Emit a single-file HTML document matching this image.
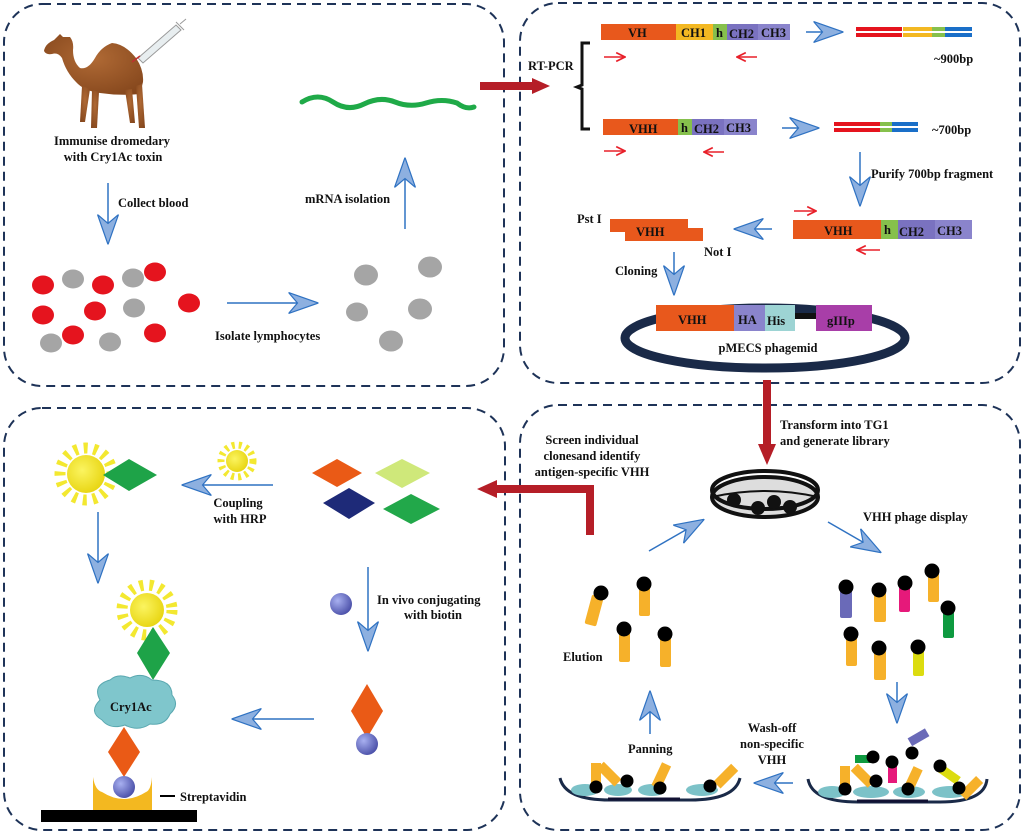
<!DOCTYPE html>
<html><head><meta charset="utf-8"><style>
html,body{margin:0;padding:0;background:#fff;}
svg{display:block;}
text{font-family:"Liberation Serif",serif;font-weight:bold;fill:#111;font-size:12.5px;}
</style></head><body>
<svg width="1024" height="836" viewBox="0 0 1024 836" xmlns="http://www.w3.org/2000/svg">
<defs>
<marker id="bh" viewBox="0 0 20 14" markerWidth="30" markerHeight="22" refX="19" refY="7" orient="auto" markerUnits="userSpaceOnUse">
<path d="M0,0 L20,7 L0,14 L6,7 Z" fill="#8db0e0" stroke="#2f72c2" stroke-width="0.8"/>
</marker>
<marker id="ra" viewBox="0 0 10 10" markerWidth="11" markerHeight="11" refX="9" refY="5" orient="auto" markerUnits="userSpaceOnUse">
<path d="M1,1 L9,5 L1,9" fill="none" stroke="#e8202a" stroke-width="1.6"/>
</marker>
<radialGradient id="ball" cx="0.35" cy="0.35" r="0.7"><stop offset="0" stop-color="#a8b0f0"/><stop offset="1" stop-color="#4a4fa8"/></radialGradient>
<radialGradient id="sun" cx="0.4" cy="0.4" r="0.7"><stop offset="0" stop-color="#fbf460"/><stop offset="1" stop-color="#e6d20a"/></radialGradient>
<radialGradient id="cam" cx="0.5" cy="0.4" r="0.7"><stop offset="0" stop-color="#b06a35"/><stop offset="1" stop-color="#84461c"/></radialGradient>
</defs>

<g fill="none" stroke="#1e3358" stroke-width="2" stroke-dasharray="9 6">
<rect x="4" y="4" width="500" height="382" rx="38"/>
<rect x="520" y="3" width="500" height="380" rx="38"/>
<rect x="4" y="408" width="501" height="422" rx="38"/>
<rect x="520" y="405" width="500" height="425" rx="38"/>
</g>

<!-- camel -->
<g fill="url(#cam)">
<path d="M44,51 Q45,44 54,40 L60,34 L63,37 L70,37 Q74,42 73,50 Q73,62 80,68 Q88,70 95,58 Q101,47 112,43 Q125,44 136,58 Q144,70 143,82 L140,94 Q120,96 100,93 Q84,91 76,82 Q66,72 62,58 Q58,52 52,54 Q46,55 44,51 Z"/>
<path d="M82,86 L80,122 L85,122 L90,89 Z"/><path d="M92,90 L91,128 L97,128 L99,92 Z"/>
<path d="M125,90 L130,123 L135,123 L132,89 Z"/><path d="M136,86 L139,128 L145,128 L142,84 Z"/>
</g>
<g stroke="#999" fill="#e8eef0" stroke-width="1"><path d="M138,58 L176,25 L181,30 L143,63 Z"/><line x1="176" y1="22" x2="184" y2="30"/><line x1="180" y1="24" x2="186" y2="19"/></g>
<line x1="132" y1="62" x2="140" y2="56" stroke="#c03030" stroke-width="1.5"/>
<text x="112" y="145" text-anchor="middle">Immunise dromedary</text>
<text x="113" y="161" text-anchor="middle">with Cry1Ac toxin</text>
<line x1="108" y1="183" x2="108" y2="243" stroke="#2f72c2" stroke-width="1.5" marker-end="url(#bh)"/>
<text x="118" y="207">Collect blood</text>
<g fill="#e5141e"><ellipse cx="43" cy="285" rx="11" ry="9.5"/><ellipse cx="103" cy="285" rx="11" ry="9.5"/><ellipse cx="155" cy="272" rx="11" ry="9.5"/><ellipse cx="43" cy="315" rx="11" ry="9.5"/><ellipse cx="95" cy="311" rx="11" ry="9.5"/><ellipse cx="189" cy="303" rx="11" ry="9.5"/><ellipse cx="73" cy="335" rx="11" ry="9.5"/><ellipse cx="155" cy="333" rx="11" ry="9.5"/></g>
<g fill="#a5a5a5"><ellipse cx="73" cy="279" rx="11" ry="9.5"/><ellipse cx="133" cy="278" rx="11" ry="9.5"/><ellipse cx="134" cy="308" rx="11" ry="9.5"/><ellipse cx="51" cy="343" rx="11" ry="9.5"/><ellipse cx="110" cy="342" rx="11" ry="9.5"/>
<ellipse cx="366" cy="275" rx="12" ry="10.5"/><ellipse cx="430" cy="267" rx="12" ry="10.5"/><ellipse cx="357" cy="312" rx="11" ry="9.5"/><ellipse cx="420" cy="309" rx="12" ry="10.5"/><ellipse cx="391" cy="341" rx="12" ry="10.5"/></g>
<line x1="227" y1="303" x2="317" y2="303" stroke="#2f72c2" stroke-width="1.5" marker-end="url(#bh)"/>
<text x="215" y="340">Isolate lymphocytes</text>
<line x1="405" y1="229" x2="405" y2="159" stroke="#2f72c2" stroke-width="1.5" marker-end="url(#bh)"/>
<text x="305" y="203">mRNA isolation</text>
<path d="M302,102 Q318,92 333,102 T364,104 T395,102 T426,103 T457,103 Q466,110 474,107" fill="none" stroke="#1faa48" stroke-width="5" stroke-linecap="round"/>

<line x1="480" y1="86" x2="535" y2="86" stroke="#b51e27" stroke-width="8"/>
<path d="M532,78 L550,86 L532,94 Z" fill="#b51e27"/>

<text x="528" y="70">RT-PCR</text>
<path d="M590,43 L582,43 L582,85 L577,87 L582,89 L582,129 L590,129" fill="none" stroke="#111" stroke-width="3"/>
<g font-size="12">
<rect x="601" y="24" width="75" height="16" fill="#e8581c"/><rect x="676" y="24" width="37" height="16" fill="#f3b822"/><rect x="713" y="24" width="14" height="16" fill="#86c04c"/><rect x="727" y="24" width="31" height="16" fill="#7a72c0"/><rect x="758" y="24" width="32" height="16" fill="#8a84cc"/>
<text x="628" y="37">VH</text><text x="681" y="37">CH1</text><text x="716" y="37">h</text><text x="729" y="38">CH2</text><text x="761" y="37">CH3</text>
<rect x="603" y="119" width="75" height="16" fill="#e8581c"/><rect x="678" y="119" width="14" height="16" fill="#86c04c"/><rect x="692" y="119" width="32" height="16" fill="#7a72c0"/><rect x="724" y="119" width="33" height="16" fill="#8a84cc"/>
<text x="629" y="133">VHH</text><text x="681" y="132">h</text><text x="694" y="133">CH2</text><text x="726" y="132">CH3</text>
</g>
<g stroke="#e8202a" stroke-width="1.5" marker-end="url(#ra)">
<line x1="604" y1="57" x2="625" y2="57"/><line x1="757" y1="57" x2="737" y2="57"/>
<line x1="604" y1="151" x2="625" y2="151"/><line x1="724" y1="152" x2="704" y2="152"/>
<line x1="794" y1="211" x2="816" y2="211"/><line x1="880" y1="250" x2="857" y2="250"/>
</g>
<line x1="806" y1="32" x2="842" y2="32" stroke="#2f72c2" stroke-width="1.5" marker-end="url(#bh)"/>
<line x1="782" y1="128" x2="818" y2="128" stroke="#2f72c2" stroke-width="1.5" marker-end="url(#bh)"/>
<g stroke-width="4">
<line x1="856" y1="29" x2="902" y2="29" stroke="#e5141e"/><line x1="856" y1="35" x2="902" y2="35" stroke="#e5141e"/>
<line x1="903" y1="29" x2="932" y2="29" stroke="#f3b822"/><line x1="903" y1="35" x2="932" y2="35" stroke="#f3b822"/>
<line x1="932" y1="29" x2="945" y2="29" stroke="#86c04c"/><line x1="932" y1="35" x2="945" y2="35" stroke="#86c04c"/>
<line x1="945" y1="29" x2="972" y2="29" stroke="#1a6fc8"/><line x1="945" y1="35" x2="972" y2="35" stroke="#1a6fc8"/>
<line x1="834" y1="124" x2="880" y2="124" stroke="#e5141e"/><line x1="834" y1="130" x2="880" y2="130" stroke="#e5141e"/>
<line x1="880" y1="124" x2="892" y2="124" stroke="#86c04c"/><line x1="880" y1="130" x2="892" y2="130" stroke="#86c04c"/>
<line x1="892" y1="124" x2="918" y2="124" stroke="#1a6fc8"/><line x1="892" y1="130" x2="918" y2="130" stroke="#1a6fc8"/>
</g>
<text x="934" y="63">~900bp</text><text x="932" y="134">~700bp</text>
<line x1="860" y1="152" x2="860" y2="205" stroke="#2f72c2" stroke-width="1.5" marker-end="url(#bh)"/>
<text x="871" y="178">Purify 700bp fragment</text>
<rect x="793" y="220" width="88" height="19" fill="#e8581c"/><rect x="881" y="220" width="17" height="19" fill="#86c04c"/><rect x="898" y="220" width="37" height="19" fill="#7a72c0"/><rect x="935" y="220" width="37" height="19" fill="#8a84cc"/>
<text x="824" y="235" font-size="13">VHH</text><text x="884" y="234">h</text><text x="899" y="236" font-size="13">CH2</text><text x="937" y="235" font-size="13">CH3</text>
<line x1="772" y1="229" x2="735" y2="229" stroke="#2f72c2" stroke-width="1.5" marker-end="url(#bh)"/>
<path d="M610,219 L688,219 L688,228 L703,228 L703,241 L625,241 L625,232 L610,232 Z" fill="#e8581c"/>
<text x="636" y="236" font-size="13">VHH</text>
<text x="577" y="223">Pst I</text><text x="704" y="256">Not I</text>
<text x="615" y="275">Cloning</text>
<line x1="674" y1="252" x2="674" y2="294" stroke="#2f72c2" stroke-width="1.5" marker-end="url(#bh)"/>
<ellipse cx="765" cy="338" rx="140" ry="30" fill="none" stroke="#1a2a48" stroke-width="9"/>
<rect x="656" y="305" width="78" height="26" fill="#e8581c"/><rect x="734" y="305" width="31" height="26" fill="#8a84cc"/><rect x="765" y="305" width="30" height="26" fill="#9dd4d4"/><rect x="795" y="313" width="22" height="6" fill="#111"/><rect x="816" y="305" width="56" height="26" fill="#a83ea8"/>
<text x="678" y="324" font-size="14">VHH</text><text x="738" y="324" font-size="14">HA</text><text x="767" y="325" font-size="14">His</text><text x="827" y="325" font-size="14">gIIIp</text>
<text x="768" y="352" text-anchor="middle">pMECS phagemid</text>

<line x1="767" y1="380" x2="767" y2="446" stroke="#b51e27" stroke-width="8"/>
<path d="M758,444 L767,465 L776,444 Z" fill="#b51e27"/>

<text x="780" y="429">Transform into TG1</text><text x="780" y="445">and generate library</text>
<ellipse cx="765" cy="497" rx="53" ry="20" fill="#ddd" stroke="#111" stroke-width="4"/>
<path d="M712,497 Q765,485 818,497" fill="none" stroke="#111" stroke-width="2"/>
<ellipse cx="765" cy="490" rx="53" ry="19" fill="none" stroke="#111" stroke-width="4"/>
<g fill="#111"><circle cx="734" cy="500" r="7"/><circle cx="758" cy="508" r="7"/><circle cx="774" cy="502" r="7"/><circle cx="790" cy="507" r="7"/></g>
<text x="863" y="521">VHH phage display</text>
<line x1="649" y1="551" x2="703" y2="520" stroke="#2f72c2" stroke-width="1.5" marker-end="url(#bh)"/>
<line x1="828" y1="522" x2="880" y2="552" stroke="#2f72c2" stroke-width="1.5" marker-end="url(#bh)"/>
<g>
<rect x="840" y="588" width="12" height="30" rx="2" fill="#6a6ab8"/><circle cx="846" cy="587" r="7.5" fill="#000"/>
<rect x="874" y="592" width="12" height="30" rx="2" fill="#f6b12a"/><circle cx="879" cy="590" r="7.5" fill="#000"/>
<rect x="899" y="584" width="11" height="28" rx="2" fill="#e6197a"/><circle cx="905" cy="583" r="7.5" fill="#000"/>
<rect x="928" y="572" width="11" height="30" rx="2" fill="#f6b12a"/><circle cx="932" cy="571" r="7.5" fill="#000"/>
<rect x="943" y="610" width="11" height="28" rx="2" fill="#0e9a40"/><circle cx="948" cy="608" r="7.5" fill="#000"/>
<rect x="846" y="636" width="11" height="30" rx="2" fill="#f6b12a"/><circle cx="851" cy="634" r="7.5" fill="#000"/>
<rect x="874" y="650" width="12" height="30" rx="2" fill="#f6b12a"/><circle cx="879" cy="648" r="7.5" fill="#000"/>
<rect x="913" y="648" width="11" height="28" rx="2" fill="#dcdc10"/><circle cx="918" cy="647" r="7.5" fill="#000"/>
</g>
<line x1="897" y1="682" x2="897" y2="722" stroke="#2f72c2" stroke-width="1.5" marker-end="url(#bh)"/>
<g>
<rect x="592" y="596" width="12" height="30" rx="2" fill="#f6b12a" transform="rotate(15 598 596)"/><circle cx="601" cy="593" r="7.5" fill="#000"/>
<rect x="639" y="586" width="11" height="30" rx="2" fill="#f6b12a"/><circle cx="644" cy="584" r="7.5" fill="#000"/>
<rect x="619" y="632" width="11" height="30" rx="2" fill="#f6b12a"/><circle cx="624" cy="629" r="7.5" fill="#000"/>
<rect x="660" y="637" width="11" height="30" rx="2" fill="#f6b12a"/><circle cx="665" cy="634" r="7.5" fill="#000"/>
</g>
<text x="563" y="661">Elution</text>
<line x1="650" y1="734" x2="650" y2="692" stroke="#2f72c2" stroke-width="1.5" marker-end="url(#bh)"/>
<text x="628" y="753">Panning</text>
<text x="772" y="732" text-anchor="middle">Wash-off</text><text x="772" y="748" text-anchor="middle">non-specific</text><text x="772" y="764" text-anchor="middle">VHH</text>
<line x1="793" y1="783" x2="755" y2="783" stroke="#2f72c2" stroke-width="1.5" marker-end="url(#bh)"/>
<g>
<path d="M560,778 Q565,800 610,800 L690,800 Q735,800 740,778" fill="none" stroke="#1a2a48" stroke-width="3"/>
<line x1="608" y1="799" x2="680" y2="799" stroke="#113" stroke-width="3"/>
<path d="M808,779 Q812,802 858,802 L940,802 Q985,802 987,779" fill="none" stroke="#1a2a48" stroke-width="3"/>
<line x1="857" y1="801" x2="928" y2="801" stroke="#113" stroke-width="3"/>
<g fill="#7cc2c8"><ellipse cx="585" cy="790" rx="14" ry="6"/><ellipse cx="618" cy="790" rx="14" ry="6"/><ellipse cx="652" cy="790" rx="14" ry="6"/><ellipse cx="702" cy="790" rx="16" ry="6"/>
<ellipse cx="832" cy="792" rx="14" ry="6"/><ellipse cx="871" cy="792" rx="18" ry="6"/><ellipse cx="909" cy="792" rx="16" ry="6"/><ellipse cx="950" cy="792" rx="18" ry="6"/></g>
<g fill="#f6b12a"><rect x="591" y="763" width="10" height="25"/><rect x="608" y="760" width="10" height="25" transform="rotate(-45 613 778)"/><rect x="651" y="762" width="10" height="25" transform="rotate(25 656 787)"/><rect x="712" y="760" width="10" height="25" transform="rotate(45 717 785)"/>
<rect x="840" y="766" width="10" height="24"/><rect x="862" y="762" width="10" height="24" transform="rotate(-45 867 780)"/><rect x="903" y="766" width="10" height="24" transform="rotate(25 908 790)"/><rect x="962" y="766" width="10" height="24" transform="rotate(45 957 788)"/></g>
<rect x="888" y="763" width="9" height="20" fill="#e6197a"/>
<rect x="855" y="755" width="20" height="8" fill="#0e9a40"/>
<rect x="915" y="738" width="20" height="9" fill="#6a6ab8" transform="rotate(-30 912 752)"/>
<rect x="942" y="763" width="22" height="9" fill="#dcdc10" transform="rotate(35 940 765)"/>
<g fill="#000"><circle cx="596" cy="787" r="6.5"/><circle cx="627" cy="781" r="6.5"/><circle cx="660" cy="788" r="6.5"/><circle cx="710" cy="786" r="6.5"/>
<circle cx="845" cy="789" r="6.5"/><circle cx="876" cy="781" r="6.5"/><circle cx="908" cy="789" r="6.5"/><circle cx="959" cy="788" r="6.5"/>
<circle cx="873" cy="757" r="6.5"/><circle cx="892" cy="762" r="6.5"/><circle cx="912" cy="753" r="6.5"/><circle cx="940" cy="766" r="6.5"/></g>
</g>
<path d="M590,535 L590,489 L495,489" fill="none" stroke="#b51e27" stroke-width="8"/>
<path d="M497,480 L477,489 L497,498 Z" fill="#b51e27"/>
<text x="592" y="444" text-anchor="middle">Screen individual</text>
<text x="592" y="460" text-anchor="middle">clonesand identify</text>
<text x="592" y="476" text-anchor="middle">antigen-specific VHH</text>

<circle cx="86" cy="474" r="26" fill="none" stroke="#f3e830" stroke-width="11" stroke-dasharray="4 6"/>
<circle cx="86" cy="474" r="19" fill="url(#sun)"/>
<path d="M103,475 L129,459 L157,475 L129,491 Z" fill="#1ea348"/>
<circle cx="237" cy="461" r="16" fill="none" stroke="#f3e830" stroke-width="7" stroke-dasharray="3 4"/>
<circle cx="237" cy="461" r="11" fill="url(#sun)"/>
<line x1="273" y1="485" x2="183" y2="485" stroke="#2f72c2" stroke-width="1.5" marker-end="url(#bh)"/>
<text x="238" y="507" text-anchor="middle">Coupling</text><text x="240" y="523" text-anchor="middle">with HRP</text>
<path d="M312,473 L337,459 L362,473 L337,487 Z" fill="#ea5a16"/>
<path d="M375,473 L402,459 L430,473 L402,488 Z" fill="#cfe87a"/>
<path d="M323,503 L349,488 L375,503 L349,519 Z" fill="#1e2a78"/>
<path d="M383,509 L411,494 L440,509 L411,524 Z" fill="#22a84a"/>
<line x1="98" y1="512" x2="98" y2="582" stroke="#2f72c2" stroke-width="1.5" marker-end="url(#bh)"/>
<circle cx="147" cy="610" r="25" fill="none" stroke="#f3e830" stroke-width="11" stroke-dasharray="4 6"/>
<circle cx="147" cy="610" r="17" fill="url(#sun)"/>
<path d="M153,627 L170,653 L153,680 L137,653 Z" fill="#1ea348"/>
<path d="M100,700 Q92,685 110,680 Q118,673 130,678 Q142,672 152,680 Q172,680 172,695 Q180,705 170,714 Q165,726 150,724 Q138,732 125,725 Q110,730 102,720 Q88,712 100,700 Z" fill="#7fc6cc" stroke="#5aa8b0"/>
<text x="110" y="711" font-size="14">Cry1Ac</text>
<path d="M124,727 L140,752 L124,777 L108,752 Z" fill="#ea5a16"/>
<path d="M93,777 Q95,790 102,792 Q124,806 146,792 Q151,790 152,777 L152,810 L93,810 Z" fill="#f3b820"/>
<circle cx="124" cy="787" r="11" fill="url(#ball)"/>
<rect x="41" y="810" width="156" height="12" fill="#000"/>
<line x1="160" y1="796" x2="175" y2="796" stroke="#000" stroke-width="2"/>
<text x="180" y="801">Streptavidin</text>
<circle cx="341" cy="604" r="11" fill="url(#ball)"/>
<line x1="368" y1="567" x2="368" y2="650" stroke="#2f72c2" stroke-width="1.5" marker-end="url(#bh)"/>
<text x="377" y="604">In vivo conjugating</text><text x="433" y="619" text-anchor="middle">with biotin</text>
<path d="M367,684 L383,711 L367,738 L351,711 Z" fill="#ea5a16"/>
<circle cx="367" cy="744" r="11" fill="url(#ball)"/>
<line x1="314" y1="719" x2="233" y2="719" stroke="#2f72c2" stroke-width="1.5" marker-end="url(#bh)"/>
</svg>
</body></html>
